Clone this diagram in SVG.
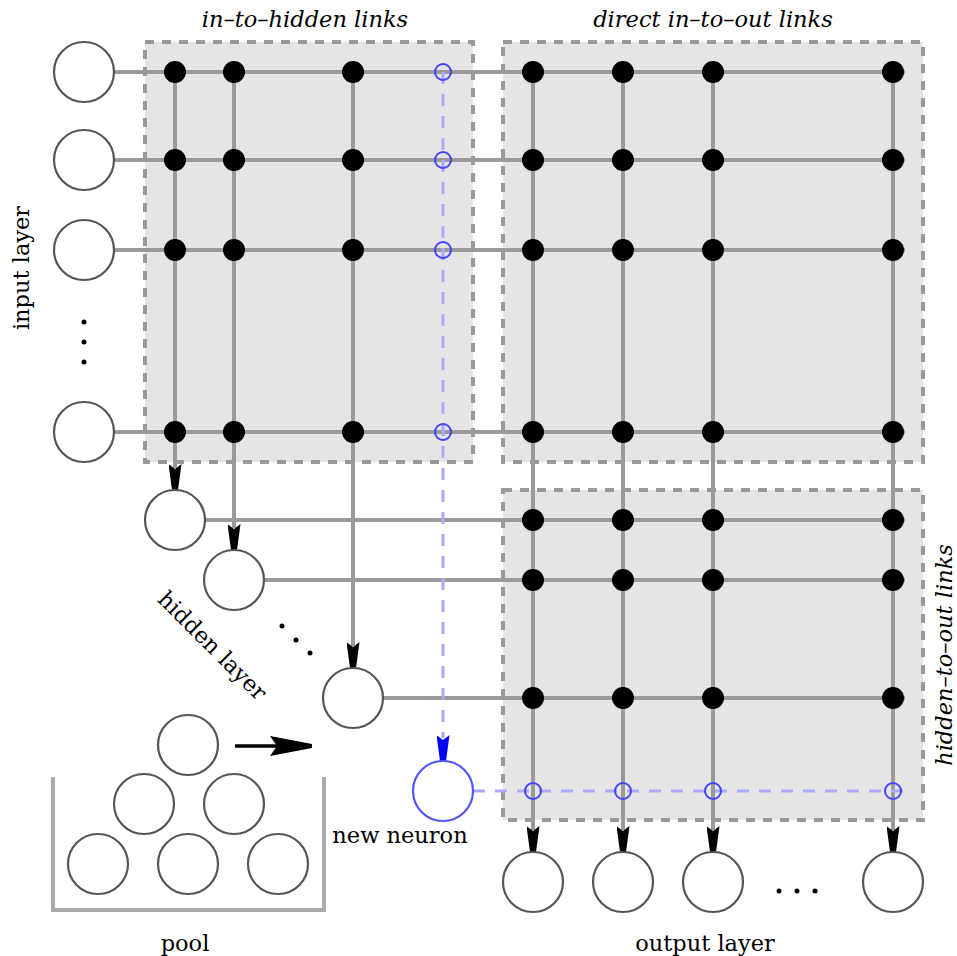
<svg xmlns="http://www.w3.org/2000/svg" width="957" height="956" viewBox="0 0 957 956">
  <style>
    .box { fill: #e5e5e5; stroke: #999; stroke-width: 4; stroke-dasharray: 9 8; }
    .link { stroke: #9a9a9a; stroke-width: 4; fill: none; }
    .neuron { fill: #fff; stroke: #555; stroke-width: 2.2; }
    .new { fill: #fff; stroke: #5555ff; stroke-width: 2.2; }
    .dot { fill: #000; }
    .hole { fill: none; stroke: #4444ff; stroke-width: 2; }
    .blink { stroke: #aaaaff; stroke-width: 3; stroke-dasharray: 12 10; fill: none; }
    .lbl { font-family: "DejaVu Serif", "Liberation Serif", serif; font-size: 22.5px; fill: #000; }
    .it { font-style: italic; }
    .pool { stroke: #aaa; stroke-width: 4; fill: none; }
    .tip { stroke: none; }
  </style>
  <defs>
    <!-- tapered arrowhead with notched back, tip at the line end -->
    <marker id="arr" viewBox="0 0 26 13" refX="26" refY="6.5" markerWidth="26" markerHeight="13" markerUnits="userSpaceOnUse" orient="auto">
      <path d="M0,0 L26,3.5 L26,9.5 L0,13 L5,6.5 Z" fill="#000"/>
    </marker>
    <marker id="arrb" viewBox="0 0 26 13" refX="26" refY="6.5" markerWidth="26" markerHeight="13" markerUnits="userSpaceOnUse" orient="auto">
      <path d="M0,0 L26,3.5 L26,9.5 L0,13 L5,6.5 Z" fill="#0000ff"/>
    </marker>
  </defs>

  <!-- shaded link blocks -->
  <g id="blocks">
    <rect class="box" x="145" y="42" width="328" height="420"/>
    <rect class="box" x="503" y="42" width="420" height="420"/>
    <rect class="box" x="503" y="490" width="420" height="330"/>
  </g>

  <!-- connectors -->
  <g id="connectors">
    <!-- input rows -->
    <line class="link" x1="114" y1="72" x2="905" y2="72"/>
    <line class="link" x1="114" y1="160" x2="905" y2="160"/>
    <line class="link" x1="114" y1="250" x2="905" y2="250"/>
    <line class="link" x1="114" y1="432" x2="905" y2="432"/>
    <!-- hidden rows -->
    <line class="link" x1="205" y1="520" x2="905" y2="520"/>
    <line class="link" x1="264" y1="580" x2="905" y2="580"/>
    <line class="link" x1="383" y1="698" x2="905" y2="698"/>
    <!-- columns into hidden neurons -->
    <line class="link" x1="175" y1="72" x2="175" y2="468"/>
    <line class="link" x1="234" y1="72" x2="234" y2="528"/>
    <line class="link" x1="353" y1="72" x2="353" y2="646"/>
    <line class="tip" x1="175" y1="462" x2="175" y2="490" marker-end="url(#arr)"/>
    <line class="tip" x1="234" y1="522" x2="234" y2="550" marker-end="url(#arr)"/>
    <line class="tip" x1="353" y1="640" x2="353" y2="668" marker-end="url(#arr)"/>
    <!-- columns into output neurons -->
    <line class="link" x1="533" y1="72" x2="533" y2="830"/>
    <line class="link" x1="623" y1="72" x2="623" y2="830"/>
    <line class="link" x1="713" y1="72" x2="713" y2="830"/>
    <line class="link" x1="893" y1="72" x2="893" y2="830"/>
    <line class="tip" x1="533" y1="824" x2="533" y2="852" marker-end="url(#arr)"/>
    <line class="tip" x1="623" y1="824" x2="623" y2="852" marker-end="url(#arr)"/>
    <line class="tip" x1="713" y1="824" x2="713" y2="852" marker-end="url(#arr)"/>
    <line class="tip" x1="893" y1="824" x2="893" y2="852" marker-end="url(#arr)"/>
    <!-- links of the new neuron -->
    <line class="blink" x1="443" y1="72" x2="443" y2="738"/>
    <line class="tip" x1="443" y1="733" x2="443" y2="761" marker-end="url(#arrb)"/>
    <line class="blink" x1="473" y1="791" x2="905" y2="791"/>
    <!-- pool to hidden layer -->
    <line x1="235" y1="746" x2="280" y2="746" stroke="#000" stroke-width="3.5"/>
    <path d="M270,736 L312,744 L312,748 L270,756 L277,746 Z" fill="#000"/>
  </g>

  <!-- link weights -->
  <g id="weights">
    <g class="dot">
      <circle cx="175" cy="72" r="11"/><circle cx="234" cy="72" r="11"/><circle cx="353" cy="72" r="11"/>
      <circle cx="175" cy="160" r="11"/><circle cx="234" cy="160" r="11"/><circle cx="353" cy="160" r="11"/>
      <circle cx="175" cy="250" r="11"/><circle cx="234" cy="250" r="11"/><circle cx="353" cy="250" r="11"/>
      <circle cx="175" cy="432" r="11"/><circle cx="234" cy="432" r="11"/><circle cx="353" cy="432" r="11"/>
      <circle cx="533" cy="72" r="11"/><circle cx="623" cy="72" r="11"/><circle cx="713" cy="72" r="11"/><circle cx="893" cy="72" r="11"/>
      <circle cx="533" cy="160" r="11"/><circle cx="623" cy="160" r="11"/><circle cx="713" cy="160" r="11"/><circle cx="893" cy="160" r="11"/>
      <circle cx="533" cy="250" r="11"/><circle cx="623" cy="250" r="11"/><circle cx="713" cy="250" r="11"/><circle cx="893" cy="250" r="11"/>
      <circle cx="533" cy="432" r="11"/><circle cx="623" cy="432" r="11"/><circle cx="713" cy="432" r="11"/><circle cx="893" cy="432" r="11"/>
      <circle cx="533" cy="520" r="11"/><circle cx="623" cy="520" r="11"/><circle cx="713" cy="520" r="11"/><circle cx="893" cy="520" r="11"/>
      <circle cx="533" cy="580" r="11"/><circle cx="623" cy="580" r="11"/><circle cx="713" cy="580" r="11"/><circle cx="893" cy="580" r="11"/>
      <circle cx="533" cy="698" r="11"/><circle cx="623" cy="698" r="11"/><circle cx="713" cy="698" r="11"/><circle cx="893" cy="698" r="11"/>
    </g>
    <g class="hole">
      <circle cx="443" cy="72" r="8"/><circle cx="443" cy="160" r="8"/><circle cx="443" cy="250" r="8"/><circle cx="443" cy="432" r="8"/>
      <circle cx="533" cy="791" r="8"/><circle cx="623" cy="791" r="8"/><circle cx="713" cy="791" r="8"/><circle cx="893" cy="791" r="8"/>
    </g>
  </g>

  <!-- input layer -->
  <g id="input-layer">
    <circle class="neuron" cx="84" cy="72" r="30"/>
    <circle class="neuron" cx="84" cy="160" r="30"/>
    <circle class="neuron" cx="84" cy="250" r="30"/>
    <circle class="neuron" cx="84" cy="432" r="30"/>
    <circle cx="84" cy="322" r="2.5"/><circle cx="84" cy="342" r="2.5"/><circle cx="84" cy="362" r="2.5"/>
  </g>

  <!-- hidden layer -->
  <g id="hidden-layer">
    <circle class="neuron" cx="175" cy="520" r="30"/>
    <circle class="neuron" cx="234" cy="580" r="30"/>
    <circle class="neuron" cx="353" cy="698" r="30"/>
    <circle cx="282" cy="626" r="2.5"/><circle cx="296" cy="640" r="2.5"/><circle cx="310" cy="653" r="2.5"/>
  </g>

  <!-- new neuron -->
  <g id="new-neuron">
    <circle class="new" cx="443" cy="791" r="30"/>
  </g>

  <!-- output layer -->
  <g id="output-layer">
    <circle class="neuron" cx="533" cy="882" r="30"/>
    <circle class="neuron" cx="623" cy="882" r="30"/>
    <circle class="neuron" cx="713" cy="882" r="30"/>
    <circle class="neuron" cx="893" cy="882" r="30"/>
    <circle cx="779" cy="891" r="2.5"/><circle cx="797" cy="891" r="2.5"/><circle cx="815" cy="891" r="2.5"/>
  </g>

  <!-- candidate pool -->
  <g id="pool">
    <path class="pool" d="M53,777 V910 H324 V777"/>
    <circle class="neuron" cx="188" cy="745" r="30"/>
    <circle class="neuron" cx="144" cy="804" r="30"/>
    <circle class="neuron" cx="234" cy="804" r="30"/>
    <circle class="neuron" cx="98" cy="864" r="30"/>
    <circle class="neuron" cx="188" cy="864" r="30"/>
    <circle class="neuron" cx="278" cy="864" r="30"/>
  </g>

  <!-- labels -->
  <g id="labels">
    <text class="lbl it" x="305" y="27" text-anchor="middle">in–to–hidden links</text>
    <text class="lbl it" x="713" y="27" text-anchor="middle">direct in–to–out links</text>
    <text class="lbl it" transform="translate(952,655) rotate(-90)" text-anchor="middle">hidden–to–out links</text>
    <text class="lbl" transform="translate(29,268) rotate(-90)" text-anchor="middle">input layer</text>
    <text class="lbl" transform="translate(207,651) rotate(45)" text-anchor="middle">hidden layer</text>
    <text class="lbl" x="400" y="843" text-anchor="middle">new neuron</text>
    <text class="lbl" x="185" y="951" text-anchor="middle">pool</text>
    <text class="lbl" x="705" y="951" text-anchor="middle">output layer</text>
  </g>
</svg>
